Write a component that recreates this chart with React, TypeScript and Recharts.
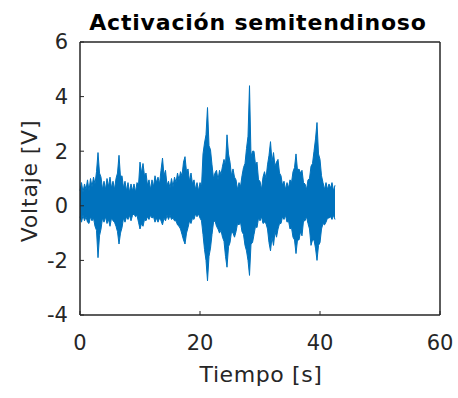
import { ComposedChart, Area, Line, XAxis, YAxis, Label } from 'recharts';

// sampling step of the envelope below, seconds
const paso = 0.25;

// upper envelope of the EMG signal [V], 4 samples per second
const maximo = [
  0.55, 0.85, 0.5, 0.8,
  0.6, 0.95, 0.55, 1.0,
  0.7, 1.05, 0.8, 1.25,
  1.95, 1.2, 1.05, 0.6,
  0.9, 0.6, 1.0, 0.7,
  1.05, 0.65, 0.9, 0.6,
  1.0, 1.2, 1.85, 1.05,
  1.1, 0.65, 0.9, 0.55,
  0.85, 0.5, 0.8, 0.55,
  0.8, 0.5, 0.85, 0.75,
  1.6, 1.2, 1.55, 1.1,
  1.2, 0.75, 0.95, 0.6,
  0.95, 0.7, 1.1, 0.85,
  1.05, 0.8, 1.3, 1.75,
  1.1, 1.3, 0.75, 0.9,
  0.65, 1.0, 0.7, 1.05,
  0.85, 1.2, 0.95, 1.25,
  1.1, 1.6, 1.8, 1.25,
  1.35, 0.9, 1.2, 0.8,
  0.95, 0.6, 0.85, 0.55,
  0.85, 0.7, 1.9, 2.3,
  2.6, 3.6, 2.2, 2.05,
  1.5, 1.0, 1.2, 1.3,
  0.95, 1.3, 1.15, 1.45,
  1.7, 1.5, 2.6, 1.9,
  1.6, 1.1, 1.35, 1.05,
  0.95, 0.6, 0.85, 0.7,
  1.1, 1.4, 1.55, 2.1,
  2.55, 4.4, 1.8, 2.0,
  2.0, 1.5, 1.6, 0.95,
  0.9, 0.6, 1.05, 1.25,
  1.0, 1.5, 1.85, 2.35,
  1.6, 1.95, 1.45, 1.6,
  1.7, 1.2, 1.1, 0.75,
  0.9, 0.6, 0.85, 0.65,
  0.95, 0.85, 1.25, 1.4,
  1.9, 1.3, 1.35, 1.2,
  1.3, 0.85, 0.8, 0.6,
  0.95, 1.0, 1.45, 1.55,
  2.0, 2.45, 3.05, 1.9,
  1.7, 1.1, 0.85, 0.6,
  0.85, 0.6, 0.8, 0.65,
  0.85, 0.55, 0.75,
];

// lower envelope [V]
const minimo = [
  -0.4, -0.6, -0.35, -0.55,
  -0.4, -0.6, -0.65, -0.4,
  -0.55, -0.45, -0.75, -0.9,
  -1.9, -1.1, -0.85, -0.45,
  -0.6, -0.4, -0.65, -0.5,
  -0.75, -0.45, -0.55, -0.6,
  -0.75, -0.95, -1.4, -1.0,
  -0.8, -0.45, -0.6, -0.4,
  -0.5, -0.35, -0.55, -0.35,
  -0.3, -0.4, -0.35, -0.6,
  -0.85, -0.65, -0.75, -0.5,
  -0.55, -0.4, -0.5, -0.35,
  -0.45, -0.4, -0.6, -0.45,
  -0.6, -0.45, -0.55, -0.7,
  -0.45, -0.55, -0.35, -0.5,
  -0.35, -0.5, -0.45, -0.55,
  -0.55, -0.7, -0.75, -0.85,
  -1.05, -1.25, -1.4, -1.0,
  -0.8, -0.55, -0.65, -0.45,
  -0.5, -0.3, -0.4, -0.3,
  -0.45, -0.55, -1.05, -1.6,
  -2.0, -2.75, -1.85, -1.55,
  -1.05, -0.6, -0.55, -0.75,
  -0.85, -1.0, -0.9, -1.15,
  -1.3, -1.85, -2.25, -1.5,
  -1.35, -0.95, -1.0, -1.15,
  -0.95, -0.65, -0.7, -0.6,
  -0.95, -1.05, -1.45, -1.65,
  -2.0, -2.55, -1.4, -1.35,
  -1.05, -0.75, -0.8, -0.45,
  -0.55, -0.4, -0.65, -0.6,
  -0.65, -0.85, -1.35, -1.65,
  -1.15, -1.45, -0.95, -1.15,
  -0.85, -0.65, -0.65, -0.4,
  -0.5, -0.35, -0.6, -0.55,
  -0.85, -0.8, -1.15, -1.25,
  -1.75, -1.25, -1.25, -0.95,
  -1.1, -0.55, -0.55, -0.4,
  -0.65, -0.85, -1.45, -1.25,
  -1.25, -1.55, -2.0, -1.45,
  -1.35, -0.85, -0.65, -0.7,
  -0.6, -0.45, -0.45, -0.4,
  -0.5, -0.35, -0.5,
];

const ticksX = [0, 20, 40, 60];
const ticksY = [-4, -2, 0, 2, 4, 6];

const data = maximo.map((hi, i) => ({ t: i * paso, rango: [minimo[i], hi], alto: hi }));

const fuente = '"DejaVu Sans", Helvetica, Arial, sans-serif';
const gris = '#262626';
const tickStyle = { fill: gris, fontSize: 21, fontFamily: fuente };
const marco = { stroke: gris, strokeWidth: 1.5 };

export default function App() {
  return (
    <div style={{ position: 'absolute', left: 0, top: 0, background: '#fff' }}>
      <ComposedChart
        width={458}
        height={398}
        data={data}
        margin={{ top: 41, right: 17, bottom: 0, left: 0 }}
      >
        <XAxis
          dataKey="t"
          type="number"
          domain={[0, 60]}
          ticks={ticksX}
          height={83}
          tickSize={-4}
          tickMargin={24}
          tick={tickStyle}
          axisLine={marco}
          tickLine={{ stroke: gris }}
        >
          <Label
            content={() => (
              <text x={261} y={382} textAnchor="middle" fill={gris} fontSize={22} letterSpacing={0.6} fontFamily={fuente}>
                Tiempo [s]
              </text>
            )}
          />
        </XAxis>
        <XAxis
          xAxisId="top"
          orientation="top"
          dataKey="t"
          type="number"
          domain={[0, 60]}
          ticks={ticksX}
          height={1}
          tickSize={-4}
          tick={false}
          axisLine={marco}
          tickLine={{ stroke: gris }}
        >
          <Label
            content={() => (
              <text x={258} y={30} textAnchor="middle" fill="#000" fontSize={22} fontWeight="bold" letterSpacing={0.8} fontFamily={fuente}>
                Activación semitendinoso
              </text>
            )}
          />
        </XAxis>
        <YAxis
          type="number"
          domain={[-4, 6]}
          ticks={ticksY}
          width={80}
          tickSize={-4}
          tickMargin={16}
          tick={tickStyle}
          axisLine={marco}
          tickLine={{ stroke: gris }}
        >
          <Label
            content={() => (
              <text
                x={37}
                y={181}
                transform="rotate(-90 37 181)"
                textAnchor="middle"
                fill={gris}
                fontSize={22}
                letterSpacing={0.8}
                fontFamily={fuente}
              >
                Voltaje [V]
              </text>
            )}
          />
        </YAxis>
        <YAxis
          yAxisId="right"
          orientation="right"
          type="number"
          domain={[-4, 6]}
          ticks={ticksY}
          width={1}
          tickSize={-4}
          tick={false}
          axisLine={marco}
          tickLine={{ stroke: gris }}
        />
        <Area
          type="linear"
          dataKey="rango"
          stroke="#0072BD"
          strokeWidth={1}
          fill="#0072BD"
          fillOpacity={1}
          dot={false}
          activeDot={false}
          isAnimationActive={false}
        />
        {/* invisible copy so the top and right frame axes are drawn */}
        <Line
          xAxisId="top"
          yAxisId="right"
          dataKey="alto"
          stroke="none"
          dot={false}
          activeDot={false}
          isAnimationActive={false}
        />
      </ComposedChart>
    </div>
  );
}
